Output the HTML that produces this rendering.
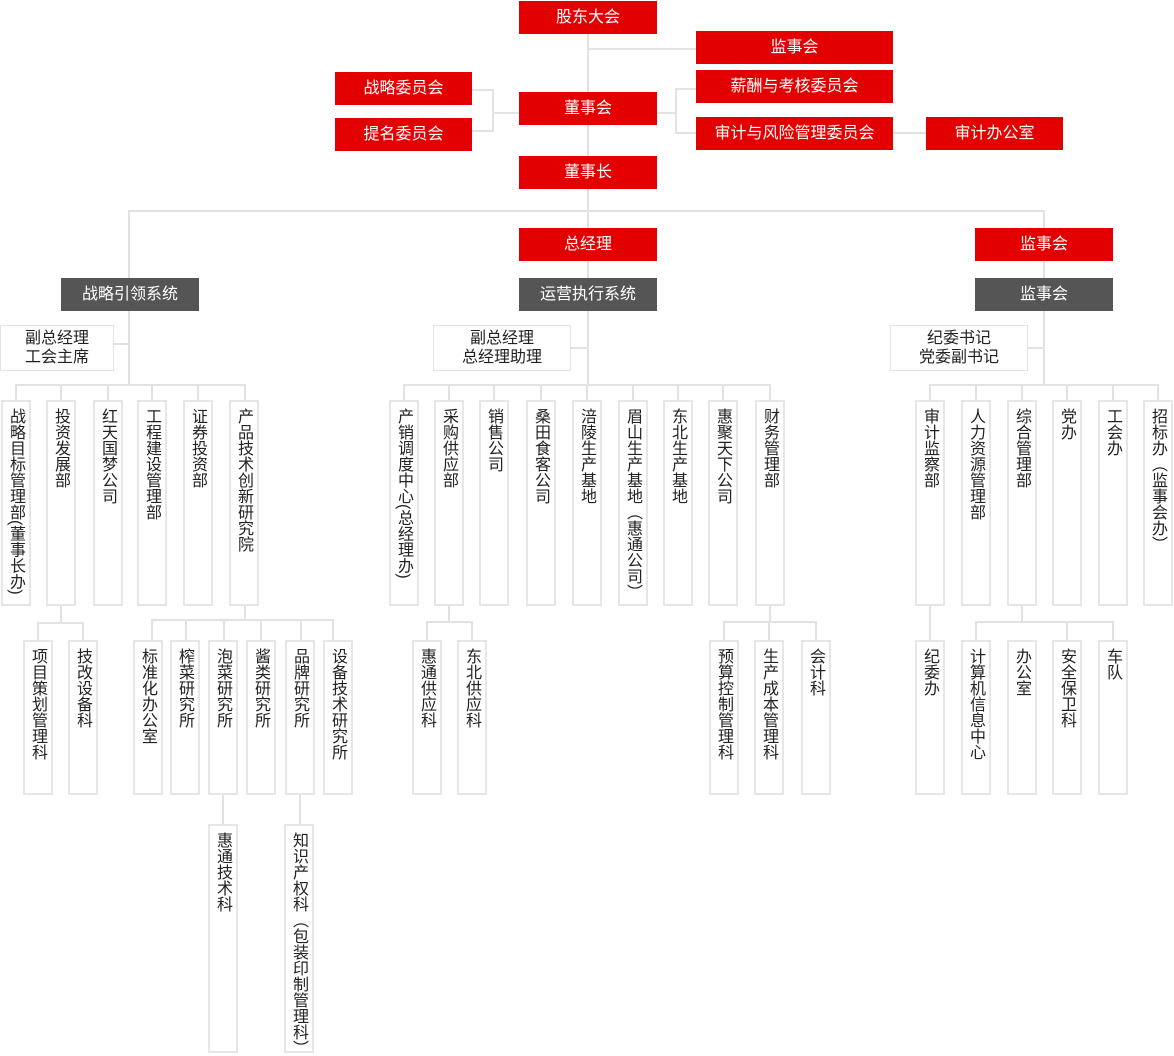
<!DOCTYPE html><html><head><meta charset="utf-8"><style>
body{margin:0;width:1174px;height:1053px;background:#fff;position:relative;overflow:hidden;font-family:"Liberation Sans","Noto Sans CJK SC",sans-serif}
div{position:absolute;box-sizing:border-box}
.r,.d{color:#fff;font-size:16px;text-align:center;line-height:33px;height:33px}
.r{background:#e30000}.d{background:#555}
.w{border:1px solid #e4e4e4;background:#fff;font-size:16px;text-align:center;line-height:19px;color:#222;padding-top:3px}
.v{border:2px solid #e6e6e6;background:#fff;width:30px;font-size:16px;color:#222;writing-mode:vertical-rl;line-height:28px;padding-top:6px;letter-spacing:0}
.h{height:2px;background:#e2e2e2}.l{width:2px;background:#e2e2e2}
</style></head><body>
<div class="l" style="left:587px;top:34px;height:351px"></div>
<div class="h" style="left:588px;top:48px;width:108px"></div>
<div class="h" style="left:472px;top:89px;width:22px"></div>
<div class="h" style="left:472px;top:130px;width:22px"></div>
<div class="l" style="left:492px;top:89px;height:43px"></div>
<div class="h" style="left:493px;top:112px;width:26px"></div>
<div class="h" style="left:657px;top:112px;width:20px"></div>
<div class="l" style="left:675px;top:88px;height:46px"></div>
<div class="h" style="left:676px;top:88px;width:20px"></div>
<div class="h" style="left:676px;top:132px;width:20px"></div>
<div class="h" style="left:893px;top:132px;width:33px"></div>
<div class="h" style="left:128px;top:210px;width:917px"></div>
<div class="l" style="left:128px;top:210px;height:175px"></div>
<div class="l" style="left:1043px;top:210px;height:175px"></div>
<div class="h" style="left:114px;top:343px;width:15px"></div>
<div class="h" style="left:571px;top:347px;width:17px"></div>
<div class="h" style="left:1028px;top:347px;width:16px"></div>
<div class="h" style="left:15px;top:384px;width:231px"></div>
<div class="h" style="left:403px;top:384px;width:368px"></div>
<div class="h" style="left:929px;top:384px;width:230px"></div>
<div class="l" style="left:15px;top:384px;height:16px"></div><div class="l" style="left:60px;top:384px;height:16px"></div><div class="l" style="left:107px;top:384px;height:16px"></div><div class="l" style="left:151px;top:384px;height:16px"></div><div class="l" style="left:197px;top:384px;height:16px"></div><div class="l" style="left:244px;top:384px;height:16px"></div>
<div class="l" style="left:403px;top:384px;height:16px"></div><div class="l" style="left:448px;top:384px;height:16px"></div><div class="l" style="left:493px;top:384px;height:16px"></div><div class="l" style="left:540px;top:384px;height:16px"></div><div class="l" style="left:586px;top:384px;height:16px"></div><div class="l" style="left:632px;top:384px;height:16px"></div><div class="l" style="left:677px;top:384px;height:16px"></div><div class="l" style="left:722px;top:384px;height:16px"></div><div class="l" style="left:769px;top:384px;height:16px"></div>
<div class="l" style="left:929px;top:384px;height:16px"></div><div class="l" style="left:975px;top:384px;height:16px"></div><div class="l" style="left:1021px;top:384px;height:16px"></div><div class="l" style="left:1066px;top:384px;height:16px"></div><div class="l" style="left:1112px;top:384px;height:16px"></div><div class="l" style="left:1157px;top:384px;height:16px"></div>
<div class="l" style="left:60px;top:606px;height:17px"></div><div class="h" style="left:37px;top:622px;width:47px"></div><div class="l" style="left:37px;top:622px;height:18px"></div><div class="l" style="left:82px;top:622px;height:18px"></div>
<div class="l" style="left:244px;top:606px;height:14px"></div><div class="h" style="left:151px;top:619px;width:183px"></div>
<div class="l" style="left:151px;top:619px;height:21px"></div><div class="l" style="left:185px;top:619px;height:21px"></div><div class="l" style="left:223px;top:619px;height:21px"></div><div class="l" style="left:260px;top:619px;height:21px"></div><div class="l" style="left:300px;top:619px;height:21px"></div><div class="l" style="left:332px;top:619px;height:21px"></div>
<div class="l" style="left:222px;top:795px;height:29px"></div><div class="l" style="left:299px;top:795px;height:29px"></div>
<div class="l" style="left:448px;top:606px;height:16px"></div><div class="h" style="left:426px;top:621px;width:47px"></div><div class="l" style="left:426px;top:621px;height:19px"></div><div class="l" style="left:471px;top:621px;height:19px"></div>
<div class="l" style="left:769px;top:606px;height:16px"></div><div class="h" style="left:723px;top:621px;width:94px"></div><div class="l" style="left:723px;top:621px;height:19px"></div><div class="l" style="left:768px;top:621px;height:19px"></div><div class="l" style="left:815px;top:621px;height:19px"></div>
<div class="l" style="left:929px;top:606px;height:34px"></div>
<div class="l" style="left:1021px;top:606px;height:16px"></div><div class="h" style="left:975px;top:621px;width:139px"></div><div class="l" style="left:975px;top:621px;height:19px"></div><div class="l" style="left:1066px;top:621px;height:19px"></div><div class="l" style="left:1112px;top:621px;height:19px"></div>
<div class="r" style="left:519px;top:1px;width:138px">股东大会</div>
<div class="r" style="left:696px;top:31px;width:197px">监事会</div>
<div class="r" style="left:696px;top:70px;width:197px">薪酬与考核委员会</div>
<div class="r" style="left:696px;top:117px;width:197px">审计与风险管理委员会</div>
<div class="r" style="left:926px;top:117px;width:137px">审计办公室</div>
<div class="r" style="left:335px;top:72px;width:137px">战略委员会</div>
<div class="r" style="left:335px;top:118px;width:137px">提名委员会</div>
<div class="r" style="left:519px;top:92px;width:138px">董事会</div>
<div class="r" style="left:519px;top:156px;width:138px">董事长</div>
<div class="r" style="left:519px;top:228px;width:138px">总经理</div>
<div class="d" style="left:519px;top:278px;width:138px">运营执行系统</div>
<div class="d" style="left:61px;top:278px;width:138px">战略引领系统</div>
<div class="r" style="left:975px;top:228px;width:138px">监事会</div>
<div class="d" style="left:975px;top:278px;width:138px">监事会</div>
<div class="w" style="left:0;top:325px;width:114px;height:46px">副总经理<br>工会主席</div>
<div class="w" style="left:433px;top:325px;width:138px;height:46px">副总经理<br>总经理助理</div>
<div class="w" style="left:890px;top:325px;width:138px;height:46px">纪委书记<br>党委副书记</div>
<div class="v" style="left:1px;top:400px;height:206px">战略目标管理部(董事长办)</div>
<div class="v" style="left:46px;top:400px;height:206px">投资发展部</div>
<div class="v" style="left:93px;top:400px;height:206px">红天国梦公司</div>
<div class="v" style="left:137px;top:400px;height:206px">工程建设管理部</div>
<div class="v" style="left:183px;top:400px;height:206px">证券投资部</div>
<div class="v" style="left:229px;top:400px;height:206px">产品技术创新研究院</div>
<div class="v" style="left:389px;top:400px;height:206px">产销调度中心(总经理办)</div>
<div class="v" style="left:434px;top:400px;height:206px">采购供应部</div>
<div class="v" style="left:479px;top:400px;height:206px">销售公司</div>
<div class="v" style="left:526px;top:400px;height:206px">桑田食客公司</div>
<div class="v" style="left:572px;top:400px;height:206px">涪陵生产基地</div>
<div class="v" style="left:618px;top:400px;height:206px">眉山生产基地（惠通公司）</div>
<div class="v" style="left:663px;top:400px;height:206px">东北生产基地</div>
<div class="v" style="left:708px;top:400px;height:206px">惠聚天下公司</div>
<div class="v" style="left:755px;top:400px;height:206px">财务管理部</div>
<div class="v" style="left:915px;top:400px;height:206px">审计监察部</div>
<div class="v" style="left:961px;top:400px;height:206px">人力资源管理部</div>
<div class="v" style="left:1007px;top:400px;height:206px">综合管理部</div>
<div class="v" style="left:1052px;top:400px;height:206px">党办</div>
<div class="v" style="left:1098px;top:400px;height:206px">工会办</div>
<div class="v" style="left:1143px;top:400px;height:206px">招标办（监事会办）</div>
<div class="v" style="left:23px;top:640px;height:155px">项目策划管理科</div>
<div class="v" style="left:68px;top:640px;height:155px">技改设备科</div>
<div class="v" style="left:133px;top:640px;height:155px">标准化办公室</div>
<div class="v" style="left:170px;top:640px;height:155px">榨菜研究所</div>
<div class="v" style="left:208px;top:640px;height:155px">泡菜研究所</div>
<div class="v" style="left:246px;top:640px;height:155px">酱类研究所</div>
<div class="v" style="left:285px;top:640px;height:155px">品牌研究所</div>
<div class="v" style="left:323px;top:640px;height:155px">设备技术研究所</div>
<div class="v" style="left:412px;top:640px;height:155px">惠通供应科</div>
<div class="v" style="left:457px;top:640px;height:155px">东北供应科</div>
<div class="v" style="left:709px;top:640px;height:155px">预算控制管理科</div>
<div class="v" style="left:754px;top:640px;height:155px">生产成本管理科</div>
<div class="v" style="left:801px;top:640px;height:155px">会计科</div>
<div class="v" style="left:915px;top:640px;height:155px">纪委办</div>
<div class="v" style="left:961px;top:640px;height:155px">计算机信息中心</div>
<div class="v" style="left:1007px;top:640px;height:155px">办公室</div>
<div class="v" style="left:1052px;top:640px;height:155px">安全保卫科</div>
<div class="v" style="left:1098px;top:640px;height:155px">车队</div>
<div class="v" style="left:208px;top:824px;height:229px">惠通技术科</div>
<div class="v" style="left:284px;top:824px;height:229px">知识产权科（包装印制管理科）</div>
</body></html>
